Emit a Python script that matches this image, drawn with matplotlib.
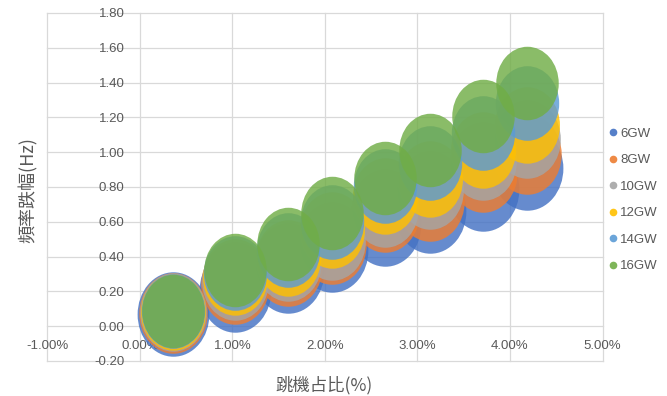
import matplotlib
matplotlib.use("Agg")
import matplotlib.pyplot as plt
from matplotlib.path import Path
from matplotlib.transforms import Affine2D
from matplotlib.lines import Line2D

# Trip share (fraction of load) at each test point
trip_share = [0.0036, 0.0103, 0.0160, 0.0208, 0.0265, 0.0314, 0.0371, 0.0418]

# Frequency drop (Hz) for each system load
series_names = ["6GW", "8GW", "10GW", "12GW", "14GW", "16GW"]
drop_6gw = [0.070, 0.21, 0.32, 0.44, 0.59, 0.66, 0.79, 0.91]
drop_8gw = [0.075, 0.24, 0.345, 0.47, 0.655, 0.72, 0.885, 0.99]
drop_10gw = [0.080, 0.26, 0.37, 0.49, 0.68, 0.78, 0.95, 1.075]
drop_12gw = [0.080, 0.28, 0.39, 0.55, 0.75, 0.845, 1.01, 1.155]
drop_14gw = [0.085, 0.305, 0.44, 0.60, 0.805, 0.94, 1.11, 1.28]
drop_16gw = [0.090, 0.325, 0.475, 0.65, 0.85, 1.01, 1.21, 1.40]
drops = [drop_6gw, drop_8gw, drop_10gw, drop_12gw, drop_14gw, drop_16gw]

# Relative bubble size of each series
bubble_size = [1.32, 1.20, 1.14, 1.08, 1.03, 1.00]

colors = ["#4472C4", "#ED7D31", "#A5A5A5", "#FFC000", "#5B9BD5", "#70AD47"]

x_ticks = [-0.01, 0.0, 0.01, 0.02, 0.03, 0.04, 0.05]
x_tick_labels = ["-1.00%", "0.00%", "1.00%", "2.00%", "3.00%", "4.00%", "5.00%"]
y_ticks = [-0.2, 0.0, 0.2, 0.4, 0.6, 0.8, 1.0, 1.2, 1.4, 1.6, 1.8]
y_tick_labels = ["-0.20", "0.00", "0.20", "0.40", "0.60", "0.80",
                 "1.00", "1.20", "1.40", "1.60", "1.80"]

num_font = ["Liberation Sans Narrow", "Liberation Sans", "DejaVu Sans"]
cjk_font = ["Noto Sans CJK TC", "DejaVu Sans"]
text_color = "#595959"
grid_color = "#D9D9D9"

fig = plt.figure(figsize=(6.67, 3.96), dpi=100)
ax = fig.add_axes([0.0712, 0.0884, 0.8321, 0.8788])
ax.set_xlim(x_ticks[0], x_ticks[-1])
ax.set_ylim(y_ticks[0], y_ticks[-1])

# gridlines (including the frame edges and both zero axes)
for yv in y_ticks:
    ax.axhline(yv, color=grid_color, lw=0.9, zorder=0, clip_on=False)
for xv in x_ticks:
    ax.axvline(xv, color=grid_color, lw=0.9, zorder=0, clip_on=False)

# slightly tall elliptical bubble marker
ellipse = Path.unit_circle().transformed(Affine2D().scale(0.85, 1.0))
base_area = 2800.0
for name, ys, size, col in zip(series_names, drops, bubble_size, colors):
    ax.scatter(trip_share, ys, s=base_area * size, marker=ellipse,
               color=col, alpha=0.82, linewidths=0, zorder=2)

for sp in ax.spines.values():
    sp.set_visible(False)
ax.spines["left"].set_position(("data", 0))
ax.spines["bottom"].set_position(("data", 0))

ax.set_xticks(x_ticks, x_tick_labels)
ax.set_yticks(y_ticks, y_tick_labels)
ax.tick_params(length=0, colors=text_color, labelsize=9.5)
ax.tick_params(axis="y", pad=11)
ax.tick_params(axis="x", pad=10)
for lab in ax.get_xticklabels() + ax.get_yticklabels():
    lab.set_family(num_font)
    lab.set_zorder(5)

fig.text(0.042, 0.52, "頻率跌幅(Hz)", rotation=90, ha="center", va="center",
         fontsize=13, color=text_color, family=cjk_font)
fig.text(0.486, 0.028, "跳機占比(%)", ha="center", va="center",
         fontsize=12.5, color=text_color, family=cjk_font)

handles = [Line2D([], [], marker="o", linestyle="none", markersize=5.5,
                  markerfacecolor=c, markeredgewidth=0, alpha=0.9) for c in colors]
leg = fig.legend(handles, series_names, loc="center left",
                 bbox_to_anchor=(0.903, 0.495), frameon=False,
                 prop={"family": num_font, "size": 9.5},
                 labelspacing=1.08, handlelength=0.8, handletextpad=0.15,
                 borderaxespad=0)
for t in leg.get_texts():
    t.set_color(text_color)

fig.savefig("out.png", dpi=100)
